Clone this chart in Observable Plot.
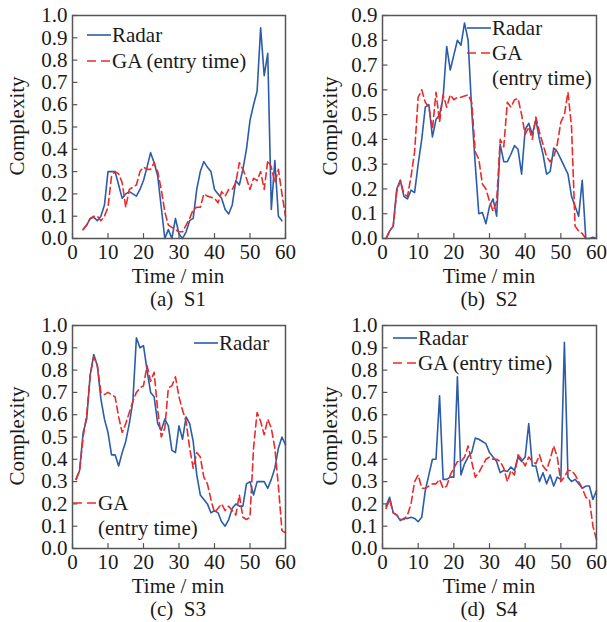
<!DOCTYPE html>
<html><head><meta charset="utf-8">
<script src="https://cdn.jsdelivr.net/npm/d3@7"></script>
<script src="https://cdn.jsdelivr.net/npm/@observablehq/plot@0.6"></script>
<style>
body{margin:0;background:#fff;}
#root{position:relative;width:607px;height:622px;font-family:"Liberation Serif","Times New Roman",serif;color:#1a1a1a;overflow:hidden;}
.abs{position:absolute;white-space:pre;font-size:21px;line-height:1;transform:translate(-50%,-50%);}
.leg{position:absolute;white-space:nowrap;font-size:21px;line-height:1;}
.plotbox{position:absolute;}
</style></head><body><div id="root"></div>
<script>
// ---- data ----
const xTicks = [0, 10, 20, 30, 40, 50, 60];
const yTicks10 = [0.0, 0.1, 0.2, 0.3, 0.4, 0.5, 0.6, 0.7, 0.8, 0.9, 1.0];
const yTicks09 = [0.0, 0.1, 0.2, 0.3, 0.4, 0.5, 0.6, 0.7, 0.8, 0.9];

// S1
const s1RadarT = [3,4,5,6,7,8,9,10,11,12,13,14,15,16,17,18,19,20,21,22,23,24,25,26,27,28,29,30,31,32,33,34,35,36,37,38,39,40,41,42,43,44,45,46,47,48,49,50,51,52,53,54,55,56,57,58,59];
const s1Radar  = [0.04,0.06,0.09,0.095,0.08,0.10,0.15,0.30,0.30,0.30,0.24,0.18,0.20,0.21,0.20,0.19,0.22,0.26,0.32,0.385,0.34,0.28,0.14,0.00,0.04,0.00,0.09,0.02,0.00,0.03,0.08,0.09,0.22,0.30,0.345,0.32,0.30,0.22,0.20,0.18,0.13,0.11,0.15,0.26,0.24,0.31,0.40,0.53,0.60,0.66,0.945,0.73,0.83,0.13,0.35,0.10,0.08];
const s1GAT    = [3,4,5,6,7,8,9,10,11,12,13,14,15,16,17,18,19,20,21,22,23,24,25,26,27,28,29,30,31,32,33,34,35,36,37,38,39,40,41,42,43,44,45,46,47,48,49,50,51,52,53,54,55,56,57,58,59,60];
const s1GA     = [0.04,0.06,0.09,0.10,0.10,0.08,0.10,0.14,0.28,0.30,0.29,0.25,0.14,0.22,0.23,0.24,0.30,0.32,0.31,0.31,0.34,0.30,0.22,0.12,0.06,0.05,0.04,0.03,0.03,0.06,0.09,0.13,0.14,0.14,0.20,0.19,0.185,0.18,0.16,0.21,0.19,0.22,0.22,0.25,0.34,0.31,0.27,0.22,0.27,0.26,0.30,0.22,0.35,0.32,0.25,0.31,0.20,0.10];

// S2
const s2RadarT = [1,2,3,4,5,6,7,8,9,10,11,12,13,14,15,16,17,18,19,20,21,22,23,24,25,26,27,28,29,30,31,32,33,34,35,36,37,38,39,40,41,42,43,44,45,46,47,48,49,50,51,52,53,54,55,56,57,58,59,60];
const s2Radar  = [0.00,0.03,0.05,0.20,0.235,0.17,0.16,0.195,0.185,0.30,0.40,0.53,0.54,0.41,0.48,0.50,0.57,0.775,0.68,0.74,0.80,0.78,0.87,0.80,0.52,0.30,0.10,0.105,0.06,0.13,0.16,0.09,0.38,0.31,0.31,0.34,0.375,0.36,0.26,0.44,0.465,0.42,0.48,0.40,0.34,0.26,0.27,0.365,0.35,0.32,0.29,0.26,0.17,0.13,0.09,0.235,0.00,0.00,0.005,0.00];
const s2GAT    = [1,2,3,4,5,6,7,8,9,10,11,12,13,14,15,16,17,18,19,20,21,22,23,24,25,26,27,28,29,30,31,32,33,34,35,36,37,38,39,40,41,42,43,44,45,46,47,48,49,50,51,52,53,54,55,56,57];
const s2GA     = [0.00,0.03,0.05,0.19,0.235,0.18,0.17,0.25,0.35,0.57,0.60,0.55,0.53,0.44,0.59,0.47,0.58,0.53,0.58,0.56,0.57,0.57,0.575,0.58,0.55,0.35,0.32,0.22,0.20,0.15,0.11,0.15,0.40,0.37,0.55,0.53,0.56,0.565,0.50,0.42,0.45,0.40,0.49,0.43,0.38,0.33,0.31,0.33,0.38,0.47,0.50,0.59,0.45,0.05,0.03,0.02,0.00];

// S3
const s3RadarT = [1,2,3,4,5,6,7,8,9,10,11,12,13,14,15,16,17,18,19,20,21,22,23,24,25,26,27,28,29,30,31,32,33,34,35,36,37,38,39,40,41,42,43,44,45,46,47,48,49,50,51,52,53,54,55,56,57,58,59,60];
const s3Radar  = [0.31,0.35,0.52,0.58,0.78,0.87,0.82,0.67,0.58,0.52,0.42,0.42,0.37,0.43,0.48,0.56,0.66,0.945,0.90,0.91,0.80,0.70,0.68,0.56,0.53,0.58,0.55,0.44,0.43,0.55,0.49,0.59,0.56,0.48,0.33,0.24,0.22,0.20,0.16,0.17,0.16,0.12,0.10,0.13,0.18,0.20,0.19,0.19,0.29,0.30,0.24,0.30,0.30,0.30,0.27,0.31,0.36,0.45,0.50,0.465];
const s3GAT    = [1,2,3,4,5,6,7,8,9,10,11,12,13,14,15,16,17,18,19,20,21,22,23,24,25,26,27,28,29,30,31,32,33,34,35,36,37,38,39,40,41,42,43,44,45,46,47,48,49,50,51,52,53,54,55,56,57,58,59,60];
const s3GA     = [0.31,0.35,0.50,0.60,0.78,0.86,0.82,0.70,0.69,0.70,0.69,0.68,0.59,0.52,0.56,0.61,0.66,0.70,0.72,0.73,0.82,0.75,0.79,0.62,0.50,0.54,0.72,0.73,0.77,0.68,0.62,0.57,0.45,0.36,0.43,0.41,0.32,0.29,0.22,0.16,0.18,0.20,0.17,0.19,0.17,0.15,0.24,0.14,0.13,0.14,0.45,0.61,0.57,0.51,0.58,0.54,0.45,0.28,0.08,0.07];

// S4
const s4RadarT = [1,2,3,4,5,6,7,8,9,10,11,12,13,14,15,16,17,18,19,20,21,22,23,24,25,26,27,28,29,30,31,32,33,34,35,36,37,38,39,40,41,42,43,44,45,46,47,48,49,50,51,52,53,54,55,56,57,58,59,60];
const s4Radar  = [0.19,0.23,0.16,0.15,0.125,0.135,0.135,0.14,0.135,0.12,0.14,0.26,0.33,0.40,0.40,0.685,0.31,0.31,0.32,0.32,0.77,0.33,0.38,0.41,0.43,0.495,0.49,0.48,0.47,0.43,0.41,0.39,0.34,0.35,0.345,0.365,0.35,0.41,0.39,0.41,0.56,0.37,0.37,0.30,0.34,0.29,0.33,0.28,0.32,0.31,0.925,0.32,0.30,0.31,0.29,0.27,0.28,0.28,0.22,0.26];
const s4GAT    = [1,2,3,4,5,6,7,8,9,10,11,12,13,14,15,16,17,18,19,20,21,22,23,24,25,26,27,28,29,30,31,32,33,34,35,36,37,38,39,40,41,42,43,44,45,46,47,48,49,50,51,52,53,54,55,56,57,58,59,60];
const s4GA     = [0.18,0.22,0.16,0.15,0.13,0.13,0.15,0.20,0.30,0.33,0.27,0.27,0.28,0.29,0.29,0.31,0.27,0.28,0.33,0.36,0.39,0.39,0.41,0.46,0.39,0.32,0.34,0.37,0.40,0.41,0.40,0.40,0.39,0.36,0.30,0.35,0.33,0.42,0.40,0.37,0.41,0.39,0.38,0.42,0.37,0.35,0.40,0.46,0.41,0.30,0.32,0.35,0.35,0.33,0.30,0.27,0.23,0.22,0.10,0.04];

const captions = ["(a)  S1", "(b)  S2", "(c)  S3", "(d)  S4"];
const xLabel = "Time / min";
const yLabel = "Complexity";
const radarName = "Radar";
const gaName = "GA (entry time)";

// ---- styles ----
const BLUE = "#2b5cab";
const RED = "#ec2a2a";
const FRAME = "#555";

const panels = [
  {left:0,   top:0,   width:300, ml:72, mr:15, ymax:1.0, yTicks:yTicks10, rt:s1RadarT, rv:s1Radar, gt:s1GAT, gv:s1GA, cap:captions[0], cx:178, ylX:17},
  {left:300, top:0,   width:307, ml:82, mr:11, ymax:0.9, yTicks:yTicks09, rt:s2RadarT, rv:s2Radar, gt:s2GAT, gv:s2GA, cap:captions[1], cx:489, ylX:330},
  {left:0,   top:310, width:300, ml:72, mr:15, ymax:1.0, yTicks:yTicks10, rt:s3RadarT, rv:s3Radar, gt:s3GAT, gv:s3GA, cap:captions[2], cx:178, ylX:17},
  {left:300, top:310, width:307, ml:82, mr:11, ymax:1.0, yTicks:yTicks10, rt:s4RadarT, rv:s4Radar, gt:s4GAT, gv:s4GA, cap:captions[3], cx:489, ylX:330}
];

const root = document.getElementById("root");

function addDiv(cls, text, x, y, extra) {
  const d = document.createElement("div");
  d.className = cls;
  d.textContent = text;
  d.style.left = x + "px";
  d.style.top = y + "px";
  if (extra) Object.assign(d.style, extra);
  root.appendChild(d);
  return d;
}

function legendItem(x, y, dashed, lines) {
  const wrap = document.createElement("div");
  wrap.className = "leg";
  wrap.style.left = x + "px";
  wrap.style.top = (y - 10) + "px";
  const svgNS = "http://www.w3.org/2000/svg";
  const s = document.createElementNS(svgNS, "svg");
  s.setAttribute("width", 24); s.setAttribute("height", 20);
  s.style.verticalAlign = "top";
  const l = document.createElementNS(svgNS, "line");
  l.setAttribute("x1", 0); l.setAttribute("x2", 24);
  l.setAttribute("y1", 10); l.setAttribute("y2", 10);
  l.setAttribute("stroke", dashed ? RED : BLUE);
  l.setAttribute("stroke-width", 1.6);
  if (dashed) l.setAttribute("stroke-dasharray", "9,5");
  s.appendChild(l);
  wrap.appendChild(s);
  const t = document.createElement("span");
  t.style.display = "inline-block";
  t.style.marginLeft = "1px";
  t.style.verticalAlign = "top";
  t.style.lineHeight = "25px";
  t.style.marginTop = "-2px";
  t.innerHTML = lines.join("<br>");
  wrap.appendChild(t);
  root.appendChild(wrap);
}

panels.forEach(p => {
  const radar = p.rt.map((t, i) => ({t, v: p.rv[i]}));
  const ga = p.gt.map((t, i) => ({t, v: p.gv[i]}));
  const chart = Plot.plot({
    width: p.width,
    height: 290,
    marginTop: 15,
    marginBottom: 52,
    marginLeft: p.ml,
    marginRight: p.mr,
    style: {fontFamily: '"Liberation Serif","Times New Roman",serif', fontSize: "21px", color: "#1a1a1a", background: "transparent", overflow: "visible"},
    x: {type: "linear", domain: [0, 60]},
    y: {type: "linear", domain: [0, p.ymax]},
    marks: [
      Plot.axisX(xTicks, {tickSize: 0, tickPadding: 6, label: null, tickFormat: d => String(d)}),
      Plot.axisY(p.yTicks, {tickSize: 0, tickPadding: 5, label: null, tickFormat: d3.format(".1f")}),
      Plot.line(radar, {x: "t", y: "v", stroke: BLUE, strokeWidth: 1.6}),
      Plot.line(ga, {x: "t", y: "v", stroke: RED, strokeWidth: 1.6, strokeDasharray: "7,4"}),
      Plot.ruleY(p.yTicks, {y: d => d, x1: 0, x2: 1.5, stroke: FRAME, strokeWidth: 1.2}),
      Plot.ruleX(xTicks, {x: d => d, y1: 0, y2: p.ymax * 0.022, stroke: FRAME, strokeWidth: 1.2}),
      Plot.frame({stroke: FRAME, strokeWidth: 1.5})
    ]
  });
  const box = document.createElement("div");
  box.className = "plotbox";
  box.style.left = p.left + "px";
  box.style.top = p.top + "px";
  box.appendChild(chart);
  root.appendChild(box);
  addDiv("abs", xLabel, p.cx, p.top + 276);
  addDiv("abs", p.cap, p.cx, p.top + 299);
  addDiv("abs", yLabel, p.ylX, p.top + 126, {transform: "translate(-50%,-50%) rotate(-90deg)"});
});

// legends
legendItem(87, 35, false, [radarName]);
legendItem(87, 61, true, [gaName]);
legendItem(467, 28, false, [radarName]);
legendItem(467, 53, true, ["GA", "(entry time)"]);
legendItem(194, 343, false, [radarName]);
legendItem(73, 503, true, ["GA", "(entry time)"]);
legendItem(393, 338, false, [radarName]);
legendItem(393, 363, true, [gaName]);
</script>
</body></html>
